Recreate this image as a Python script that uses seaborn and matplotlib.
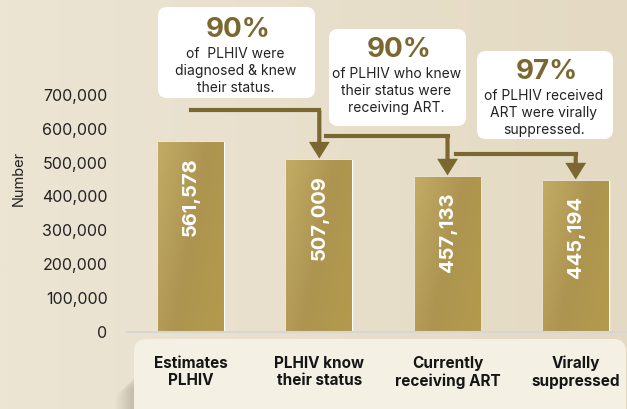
import numpy as np
import pandas as pd
import seaborn as sns
import matplotlib.pyplot as plt
from matplotlib.patches import FancyBboxPatch
from matplotlib.colors import LinearSegmentedColormap

# cascade data
categories = ["Estimates\nPLHIV", "PLHIV know\ntheir status", "Currently\nreceiving ART", "Virally\nsuppressed"]
values = [561578, 507009, 457133, 445194]
pct_labels = ["90%", "90%", "97%"]
pct_texts = ["of  PLHIV were\ndiagnosed & knew\ntheir status.",
             "of PLHIV who knew\ntheir status were\nreceiving ART.",
             "of PLHIV received\nART were virally\nsuppressed."]
yticks = [0, 100000, 200000, 300000, 400000, 500000, 600000, 700000]

sns.set_theme(style="white")
plt.rcParams['font.family'] = ['Inter', 'DejaVu Sans']

GOLD_DARK = "#7b6831"
W, H = 627, 409
fig = plt.figure(figsize=(W / 100, H / 100), dpi=100)

# background canvas in pixel coords
bg = fig.add_axes([0, 0, 1, 1], zorder=-5)
bg.set_xlim(0, W)
bg.set_ylim(H, 0)
bg.axis("off")
grad = np.linspace(0, 1, 256).reshape(1, -1)
bg_cmap = LinearSegmentedColormap.from_list("bg", ["#ece5d4", "#e4dac3"])
bg.imshow(grad, extent=(0, W, H, 0), aspect="auto", cmap=bg_cmap, zorder=0)

# soft shadow + label box
for k in range(12):
    bg.add_patch(FancyBboxPatch((132 - k * 1.5, 372 + k * 1.5), 480, 80,
                                boxstyle="round,pad=0,rounding_size=16",
                                fc="#5a5040", ec="none", alpha=0.02, zorder=1))
bg.add_patch(FancyBboxPatch((134, 339), 492, 90, boxstyle="round,pad=0,rounding_size=13",
                            fc="#f4f0e4", ec="none", zorder=2))

# callout boxes
boxes = [(158, 7, 157, 91), (329, 29, 137, 97), (477, 51, 136, 88)]
title_y = [30, 50, 72]
for (bx, by, bw, bh), ty, pct, txt in zip(boxes, title_y, pct_labels, pct_texts):
    bg.add_patch(FancyBboxPatch((bx, by), bw, bh, boxstyle="round,pad=0,rounding_size=9",
                                fc="white", ec="none", zorder=2))
    cx = bx + bw / 2
    bg.text(cx + 2, ty, pct, ha="center", va="center", fontsize=20, fontweight="bold",
            color=GOLD_DARK, zorder=3)
    bg.text(cx - 1, ty + 41, txt, ha="center", va="center", fontsize=10,
            color="#222222", linespacing=1.25, zorder=3)

# main chart
ax = fig.add_axes([127 / W, (H - 332) / H, 500 / W, 332 / H])
ax.set_facecolor("none")
df = pd.DataFrame({"stage": categories, "count": values})
sns.barplot(data=df, x="stage", y="count", ax=ax, color="#b09850", width=0.514,
            saturation=1)

bar_cmap = LinearSegmentedColormap.from_list("bar", ["#c2ab65", "#ad9551", "#b39a4b"])
gx, gy = np.meshgrid(np.linspace(0, 1, 40), np.linspace(0, 1, 80))
bar_grad = 0.65 * gx + 0.35 * (1 - gy)
for p in ax.patches:
    x0, y0, w, h = p.get_x(), p.get_y(), p.get_width(), p.get_height()
    im = ax.imshow(bar_grad, extent=(x0, x0 + w, y0, y0 + h), origin="lower",
                   aspect="auto", cmap=bar_cmap, zorder=2)
    im.set_clip_path(p)

ax.set_xlim(-0.5, 3.4)
ax.set_ylim(0, 980000)

# value labels inside bars
for i, v in enumerate(values):
    ax.annotate(f"{v:,}", xy=(i, v), xytext=(0, -11), textcoords="offset points",
                rotation=90, ha="center", va="top", color="white",
                fontsize=14.5, fontweight="bold", zorder=4)

# connector arrows between bars
arrow_y = [654000, 580000, 524000]
arrow_start = [0.0, 1.05, 2.07]
for i in range(3):
    x1 = i + 1
    ax.plot([arrow_start[i], x1], [arrow_y[i], arrow_y[i]], color=GOLD_DARK, lw=3,
            solid_capstyle="projecting", zorder=3)
    ax.annotate("", xy=(x1, values[i + 1] + 5000), xytext=(x1, arrow_y[i]),
                arrowprops=dict(width=3, headwidth=15, headlength=12, shrink=0,
                                fc=GOLD_DARK, ec="none"), zorder=3)

ax.set_yticks(yticks)
ax.set_yticklabels([f"{t:,}" for t in yticks], fontsize=11.5, color="#222222")
ax.set_xticks(range(len(categories)))
ax.set_xticklabels(categories, fontsize=11, fontweight="bold", color="#151515")
ax.tick_params(axis="y", length=0, pad=14)
ax.tick_params(axis="x", length=0, pad=17)
ax.set_xlabel("")
ax.set_ylabel("")
sns.despine(ax=ax, left=True)
ax.spines["bottom"].set_color("#d6d6d8")
ax.spines["bottom"].set_linewidth(1.5)

fig.text(18.5 / W, 1 - 178 / H, "Number", rotation=90, ha="center", va="center",
         fontsize=10.5, color="#222222")

fig.savefig("out.png", dpi=100)
